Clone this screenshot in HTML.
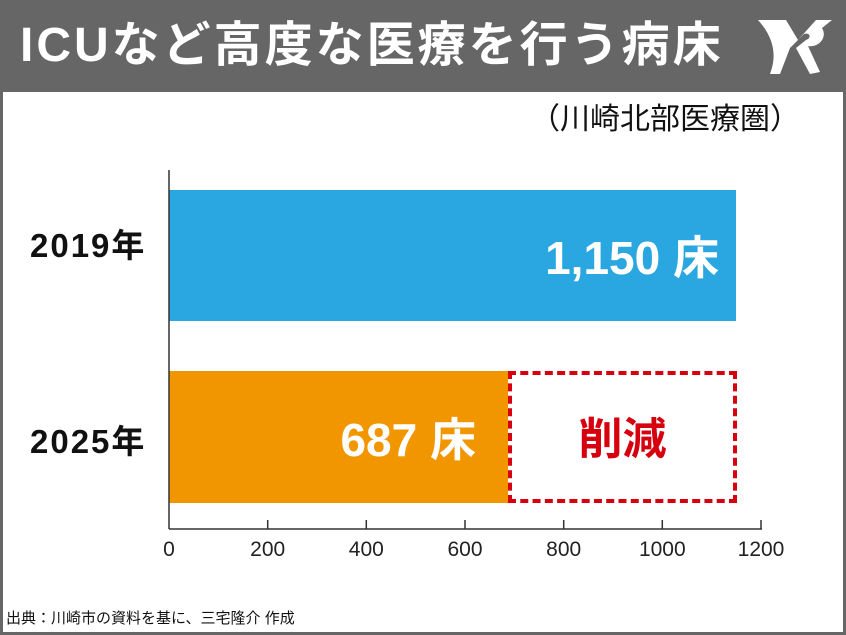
<!DOCTYPE html>
<html><head><meta charset="utf-8"><style>
body{margin:0;width:846px;height:635px;overflow:hidden;background:#fff;font-family:"Liberation Sans","Noto Sans CJK JP",sans-serif}
.a{position:absolute}
</style></head><body>
<div class="a" style="left:0;top:0;width:846px;height:635px;box-sizing:border-box;border:3px solid #666;border-top:none"></div>
<div class="a" style="left:0;top:0;width:846px;height:92px;background:#666"></div>
<div class="a" style="left:20px;top:14px;color:#fff;font-size:48px;font-weight:bold;line-height:64px;letter-spacing:3px">ICUなど高度な医療を行う病床</div>
<svg class="a" style="left:756px;top:14px" width="78" height="66" viewBox="0 0 78 66"><path d="M2 6 L30 6 L42 26 L60 6 L76 6 L66 14 C72 24 62 34 52 32 L64 58 L54 60 L40 34 L50 26 C56 24 54 18 48 20 L34 34 L24 60 L14 60 C20 44 20 26 2 6Z" fill="#fff"/></svg>
<div class="a" style="left:530px;top:100px;font-size:30px;line-height:40px;color:#111">（川崎北部医療圏）</div>
<div class="a" style="left:169px;top:190px;width:567px;height:131px;background:#2aa7e0"></div>
<div class="a" style="left:169px;top:371px;width:339px;height:132px;background:#f29600"></div>
<div class="a" style="left:508px;top:371px;width:229px;height:132px;box-sizing:border-box;border:4px dashed #d7000f"></div>
<div class="a" style="left:169px;top:230px;width:550px;text-align:right;color:#fff;font-size:46px;font-weight:bold;line-height:56px">1,150 床</div>
<div class="a" style="left:169px;top:412px;width:307px;text-align:right;color:#fff;font-size:46px;font-weight:bold;line-height:56px">687 床</div>
<div class="a" style="left:508px;top:412px;width:229px;text-align:center;color:#d7000f;font-size:44px;font-weight:bold;line-height:56px">削減</div>
<div class="a" style="left:30px;top:226px;font-size:33px;font-weight:bold;line-height:40px;color:#111;letter-spacing:2px">2019年</div>
<div class="a" style="left:30px;top:422px;font-size:33px;font-weight:bold;line-height:40px;color:#111;letter-spacing:2px">2025年</div>
<svg class="a" style="left:0;top:0" width="846" height="635">
<g stroke="#333" stroke-width="1.5"><line x1="169" y1="170" x2="169" y2="529"/><line x1="169" y1="529" x2="762" y2="529"/>
<line x1="267.7" y1="520" x2="267.7" y2="529"/><line x1="366.3" y1="520" x2="366.3" y2="529"/><line x1="465" y1="520" x2="465" y2="529"/><line x1="563.7" y1="520" x2="563.7" y2="529"/><line x1="662.3" y1="520" x2="662.3" y2="529"/><line x1="761" y1="520" x2="761" y2="529"/></g>
<g font-family="Liberation Sans,sans-serif" font-size="21" fill="#222" text-anchor="middle"><text x="169" y="556">0</text><text x="267.7" y="556">200</text><text x="366.3" y="556">400</text><text x="465" y="556">600</text><text x="563.7" y="556">800</text><text x="662.3" y="556">1000</text><text x="761" y="556">1200</text></g>
</svg>
<div class="a" style="left:6px;top:609px;font-size:15px;line-height:20px;color:#111">出典：川崎市の資料を基に、三宅隆介 作成</div>
</body></html>
